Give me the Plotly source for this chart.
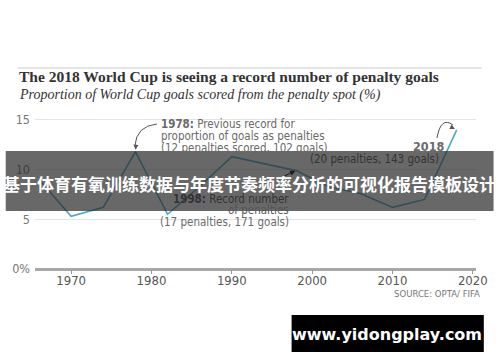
import plotly.graph_objects as go

# ---- data ----
years = [1966, 1970, 1974, 1978, 1982, 1986, 1990, 1994, 1998, 2002, 2006, 2010, 2014, 2018]
pct = [9.0, 5.3, 6.2, 11.8, 5.5, 8.3, 11.3, 10.6, 9.9, 8.3, 7.6, 6.2, 7.0, 14.0]
x_ticks = [1970, 1980, 1990, 2000, 2010, 2020]
y_ticks = [0, 5, 10, 15]
y_tick_labels = ["0%", "5", "10", "15"]

title = "The 2018 World Cup is seeing a record number of penalty goals"
subtitle = "Proportion of World Cup goals scored from the penalty spot (%)"
banner = "基于体育有氧训练数据与年度节奏频率分析的可视化报告模板设计"
watermark = "www.yidongplay.com"
source = "SOURCE: OPTA/ FIFA"

# ---- layout geometry (pixels) ----
W, H = 500, 362
L, R, T, B = 30, 18, 110, 93
XR = [1965.5, 2020.4]
YR = [0, 16]
PW, PH = W - L - R, H - T - B


def px(x):
    return (x - L) / PW


def py(y):
    return (H - B - y) / PH


def d2p(xv, yv):
    """data -> pixel"""
    return (L + (xv - XR[0]) / (XR[1] - XR[0]) * PW,
            H - B - (yv - YR[0]) / (YR[1] - YR[0]) * PH)


LINE = "#4ba9c8"
TXT = "#6a6a6a"
DARK = "#333333"
NARROW = "Liberation Sans Narrow, DejaVu Sans Condensed, Roboto, sans-serif"
SERIF = "Liberation Serif, DejaVu Serif, serif"

fig = go.Figure()
fig.add_trace(go.Scatter(x=years, y=pct, mode="lines",
                         line=dict(color=LINE, width=1.6),
                         hoverinfo="skip", showlegend=False))

ann = []
shapes = []

# title / subtitle
shapes.append(dict(type="line", xref="paper", yref="paper",
                   x0=px(12), x1=px(488), y0=py(68), y1=py(68),
                   line=dict(color="#dddddd", width=1.5)))
ann.append(dict(text="<b>" + title + "</b>", xref="paper", yref="paper",
                x=px(12), y=py(76), xanchor="left", yanchor="middle",
                showarrow=False, font=dict(family=SERIF, size=15.5, color="#333333")))
ann.append(dict(text="<i>" + subtitle + "</i>", xref="paper", yref="paper",
                x=px(12), y=py(95), xanchor="left", yanchor="middle",
                showarrow=False, font=dict(family=SERIF, size=14, color="#333333")))


def txt(s, x, y, anchor="left", color=TXT, size=11.5):
    ann.append(dict(text=s, xref="paper", yref="paper", x=px(x), y=py(y),
                    xanchor=anchor, yanchor="middle", showarrow=False,
                    font=dict(family=NARROW, size=size, color=color)))


# 1978 annotation
txt("<b>1978:</b> Previous record for", 157, 124)
txt("proportion of goals as penalties", 157, 136)
txt("(12 penalties scored, 102 goals)", 157, 148)
i78 = years.index(1978)
hx, hy = d2p(years[i78], pct[i78])
shapes.append(dict(type="path", xref="paper", yref="paper",
                   path=f"M {px(155)},{py(124)} Q {px(hx+1)},{py(126)} {px(hx-0.5)},{py(hy-6)}",
                   line=dict(color="#555555", width=1)))
ann.append(dict(text="", x=years[i78], y=pct[i78], xref="x", yref="y",
                showarrow=True, ax=0.5, ay=-7, arrowhead=2, arrowsize=1,
                arrowwidth=1, arrowcolor="#555555", standoff=2))

# 2018 annotation
txt("<b>2018</b>", 433, 146, anchor="center", size=12.5)
txt("(20 penalties, 143 goals)", 446, 159, anchor="right", color=DARK)
i18 = years.index(2018)
hx, hy = d2p(years[i18], pct[i18])
shapes.append(dict(type="path", xref="paper", yref="paper",
                   path=f"M {px(442)},{py(138)} Q {px(446)},{py(116)} {px(hx-4)},{py(hy-5)}",
                   line=dict(color="#555555", width=1)))
ann.append(dict(text="", x=years[i18], y=pct[i18], xref="x", yref="y",
                showarrow=True, ax=-6, ay=-3, arrowhead=2, arrowsize=1,
                arrowwidth=1, arrowcolor="#555555", standoff=2))

# 1998 annotation
txt("<b>1998:</b> Record number", 292, 199, anchor="right", color=DARK)
txt("of penalties", 292, 210, anchor="right", color="#555555")
txt("(17 penalties, 171 goals)", 292, 222, anchor="right")
i98 = years.index(1998)
ann.append(dict(text="", x=years[i98], y=pct[i98], xref="x", yref="y",
                showarrow=True, ax=-13, ay=6, arrowhead=2, arrowsize=1,
                arrowwidth=1, arrowcolor="#1a1a1a", standoff=1))

# source
txt(source, 488, 293, anchor="right", color="#777777", size=9.5)

# overlay band
shapes.append(dict(type="rect", xref="paper", yref="paper", layer="above",
                   x0=px(0), x1=px(W), y0=py(211), y1=py(151),
                   fillcolor="rgba(40,40,40,0.70)", line=dict(width=0)))
ann.append(dict(text="<b>" + banner + "</b>", xref="paper", yref="paper",
                x=px(250), y=py(183), xanchor="center", yanchor="middle",
                showarrow=False,
                font=dict(family="Noto Sans CJK SC", size=17, color="white")))

# watermark box
shapes.append(dict(type="rect", xref="paper", yref="paper", layer="above",
                   x0=px(293), x1=px(490), y0=py(352), y1=py(315),
                   fillcolor="black", line=dict(width=0)))
ann.append(dict(text="<b>" + watermark + "</b>", xref="paper", yref="paper",
                x=px(391), y=py(334), xanchor="center", yanchor="middle",
                showarrow=False,
                font=dict(family="DejaVu Sans, sans-serif", size=16, color="white")))

fig.update_layout(
    width=W, height=H,
    margin=dict(l=L, r=R, t=T, b=B, pad=0),
    paper_bgcolor="white", plot_bgcolor="white",
    showlegend=False,
    annotations=ann, shapes=shapes,
    xaxis=dict(range=XR, tickvals=x_ticks, showgrid=False, zeroline=False,
               showline=False, ticks="outside", ticklen=4, tickcolor="#999999",
               ticklabelstandoff=-5,
               tickfont=dict(family=NARROW, size=13, color="#555555"),
               fixedrange=True),
    yaxis=dict(range=YR, tickvals=y_ticks, ticktext=y_tick_labels,
               showgrid=True, gridcolor="#e4e4e4", gridwidth=1,
               zeroline=True, zerolinecolor="#a8a8a8", zerolinewidth=2.5,
               showline=False, ticks="", ticklabelstandoff=4,
               tickfont=dict(family=NARROW, size=12.5, color="#777777"),
               fixedrange=True),
)

fig.write_html("out.html")
